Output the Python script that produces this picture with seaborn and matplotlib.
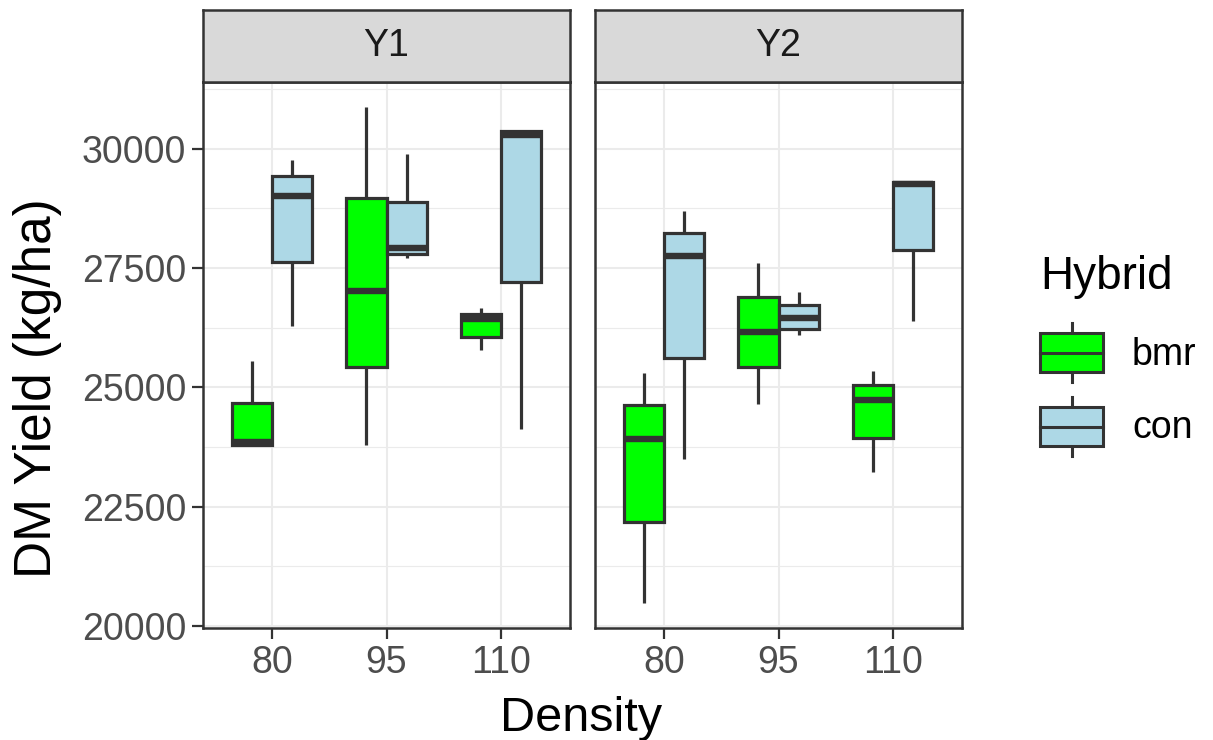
import numpy as np
import pandas as pd
import matplotlib
matplotlib.use("Agg")
import matplotlib.pyplot as plt
import seaborn as sns
from matplotlib.legend_handler import HandlerBase
from matplotlib.patches import Rectangle, Patch
from matplotlib.lines import Line2D
from matplotlib.ticker import FixedLocator

# ---------------- data ----------------
years = ["Y1", "Y2"]
densities = ["80", "95", "110"]
hybrids = ["bmr", "con"]
colors = ["#00FF00", "#ADD8E6"]

# five-number summaries [min, q1, median, q3, max] for densities 80, 95, 110
y1_bmr = [[23790, 23800, 23860, 24670, 25560],
          [23790, 25420, 27020, 28960, 30880],
          [25780, 26060, 26440, 26530, 26660]]
y1_con = [[26290, 27620, 29010, 29440, 29770],
          [27720, 27790, 27930, 28890, 29900],
          [24120, 27210, 30300, 30380, 30390]]
y2_bmr = [[20475, 22170, 23920, 24630, 25310],
          [24650, 25420, 26150, 26890, 27600],
          [23220, 23930, 24730, 25045, 25345]]
y2_con = [[23500, 25610, 27760, 28230, 28700],
          [26100, 26230, 26450, 26720, 26990],
          [26400, 27870, 29255, 29300, 29310]]

y_ticks = [20000, 22500, 25000, 27500, 30000]

rows = []
for year, groups in zip(years, [(y1_bmr, y1_con), (y2_bmr, y2_con)]):
    for hyb, summ in zip(hybrids, groups):
        for dens, vals in zip(densities, summ):
            for v in vals:
                rows.append((year, dens, hyb, v))
df = pd.DataFrame(rows, columns=["Year", "Density", "Hybrid", "Yield"])

# ---------------- style ----------------
plt.rcParams["font.family"] = ["Liberation Sans", "DejaVu Sans"]
LINE = "#333333"

W, H = 1213, 740
fig = plt.figure(figsize=(W / 100, H / 100), dpi=100)
fig.patch.set_facecolor("white")


def fr(x0, y0, x1, y1):
    return [x0 / W, 1 - y1 / H, (x1 - x0) / W, (y1 - y0) / H]


panels = [(203, 570), (595, 962)]
palette = dict(zip(hybrids, colors))

for i, (yr, (px0, px1)) in enumerate(zip(years, panels)):
    ax = fig.add_axes(fr(px0, 82, px1, 628))
    sns.boxplot(data=df[df["Year"] == yr], x="Density", y="Yield", hue="Hybrid",
                order=densities, hue_order=hybrids, palette=palette, saturation=1,
                width=0.7, gap=0, whis=np.inf, linecolor=LINE, linewidth=2.3,
                showcaps=False, medianprops={"linewidth": 4.6},
                legend=False, ax=ax)
    ax.set_xlim(-0.6, 2.6)
    ax.set_ylim(19955, 31401)
    ax.set_yticks(y_ticks)
    ax.yaxis.set_minor_locator(FixedLocator([t + 1250 for t in y_ticks]))
    ax.set_axisbelow(True)
    ax.grid(which="major", color="#EBEBEB", linewidth=1.5)
    ax.grid(which="minor", axis="y", color="#EBEBEB", linewidth=0.8)
    ax.tick_params(which="minor", length=0)
    ax.tick_params(axis="both", which="major", length=8, width=1.6, color=LINE,
                   labelsize=27, labelcolor="#4D4D4D", pad=4)
    for sp in ax.spines.values():
        sp.set_color(LINE)
        sp.set_linewidth(1.8)
    ax.set_xlabel("")
    ax.set_ylabel("")
    if i == 1:
        ax.tick_params(axis="y", left=False, labelleft=False)

    st = fig.add_axes(fr(px0, 10, px1, 82))
    st.set_facecolor("#D9D9D9")
    st.set_xticks([])
    st.set_yticks([])
    for sp in st.spines.values():
        sp.set_color(LINE)
        sp.set_linewidth(1.8)
    st.text(0.5, 0.5, yr, ha="center", va="center", fontsize=27, color="#1A1A1A",
            transform=st.transAxes)

fig.text(581 / W, 1 - 731 / H, "Density", ha="center", va="baseline", fontsize=35,
         color="black")
fig.text(38 / W, 1 - 388 / H, "DM Yield (kg/ha)", ha="center", va="center",
         rotation=90, fontsize=37, color="black")


class BoxHandler(HandlerBase):
    def create_artists(self, legend, orig_handle, xdescent, ydescent, width, height,
                       fontsize, trans):
        x0, y0 = -xdescent, -ydescent
        lw = 2.2
        fc = orig_handle.get_facecolor()
        b0 = y0 + 0.17 * height
        b1 = y0 + 0.83 * height
        xm = x0 + width / 2
        w1 = Line2D([xm, xm], [y0, b0], color=LINE, lw=lw, transform=trans)
        w2 = Line2D([xm, xm], [b1, y0 + height], color=LINE, lw=lw, transform=trans)
        rect = Rectangle((x0, b0), width, b1 - b0, facecolor=fc, edgecolor=LINE,
                         lw=lw, transform=trans)
        med = Line2D([x0, x0 + width], [y0 + height / 2] * 2, color=LINE, lw=lw,
                     transform=trans)
        return [w1, w2, rect, med]


handles = [Patch(facecolor=c) for c in colors]
leg = fig.legend(handles, hybrids, handler_map={Patch: BoxHandler()}, title="Hybrid",
                 loc="upper left", bbox_to_anchor=(1040 / W, 1 - 255 / H),
                 frameon=False, fontsize=27, title_fontsize=33,
                 handlelength=1.68, handleheight=2.045, handletextpad=0.77,
                 labelspacing=0.39, borderpad=0, borderaxespad=0, alignment="left")
# extra space between the legend title and its entries
leg._legend_box.sep = 0.39 * 27 + 7.0

fig.savefig("out.png", dpi=100)
